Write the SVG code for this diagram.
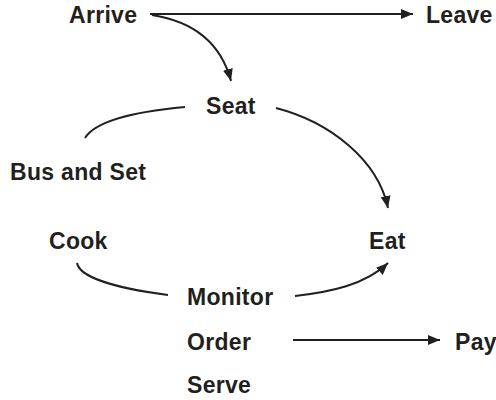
<svg xmlns="http://www.w3.org/2000/svg" width="496" height="400" viewBox="0 0 496 400">
  <defs>
    <style>
      .lbl { font-family: "Liberation Sans", Arial, Helvetica, sans-serif; font-weight: bold; font-size: 23px; fill: #231f20; letter-spacing: 0.3px; }
      .edge { fill: none; stroke: #231f20; stroke-width: 2; }
    </style>
    <marker id="arrow" markerUnits="userSpaceOnUse" markerWidth="13" markerHeight="11" refX="12" refY="5" orient="auto" viewBox="0 0 13 10">
      <path d="M0,0 L12,5 L0,10 Z" fill="#231f20"/>
    </marker>
  </defs>
  <rect width="496" height="400" fill="#ffffff"/>

  <g id="connectors">
    <path class="edge" d="M150,14 L413,14" marker-end="url(#arrow)"/>
    <path class="edge" d="M152,15 Q216,25 231,81" marker-end="url(#arrow)"/>
    <path class="edge" d="M185,107 C130,112 95,122 85,138"/>
    <path class="edge" d="M276,108 C330,122 378,160 388,208" marker-end="url(#arrow)"/>
    <path class="edge" d="M77,263 C80,280 130,290 168,295"/>
    <path class="edge" d="M295,296 C330,292 365,285 388,263" marker-end="url(#arrow)"/>
    <path class="edge" d="M293,340 L440,340" marker-end="url(#arrow)"/>
  </g>

  <g id="arrive"><text class="lbl" x="69" y="22.5">Arrive</text></g>
  <g id="leave"><text class="lbl" x="426" y="22.5">Leave</text></g>
  <g id="seat"><text class="lbl" x="206" y="114">Seat</text></g>
  <g id="bus-and-set"><text class="lbl" x="10" y="180">Bus and Set</text></g>
  <g id="cook"><text class="lbl" x="49" y="249">Cook</text></g>
  <g id="eat"><text class="lbl" x="369" y="249">Eat</text></g>
  <g id="monitor"><text class="lbl" x="187" y="305">Monitor</text></g>
  <g id="order"><text class="lbl" x="187" y="350">Order</text></g>
  <g id="pay"><text class="lbl" x="455" y="350">Pay</text></g>
  <g id="serve"><text class="lbl" x="187" y="393">Serve</text></g>
</svg>
